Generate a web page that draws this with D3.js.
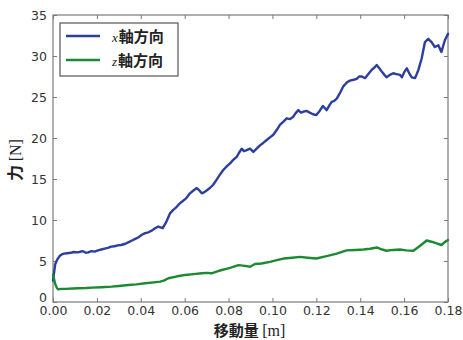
<!DOCTYPE html>
<html>
<head>
<meta charset="utf-8">
<script src="https://cdn.jsdelivr.net/npm/d3@7"></script>
<style>
  html, body { margin: 0; padding: 0; background: #fff; }
  svg { display: block; }
</style>
</head>
<body>
<svg id="chart" width="463" height="340"></svg>
<script>
// [displacement m, force N] samples along the x direction
const xDirection = [
  [0, 2.6], [0.0005, 3.6], [0.001, 4.6], [0.002, 5.2], [0.003, 5.6], [0.004, 5.8], [0.005, 5.9],
  [0.0065, 5.95], [0.008, 6.0], [0.0095, 6.1], [0.011, 6.05], [0.012, 6.1], [0.0135, 6.2],
  [0.015, 6.0], [0.016, 6.05], [0.0175, 6.2], [0.019, 6.15], [0.0205, 6.3], [0.022, 6.4],
  [0.0235, 6.5], [0.025, 6.6], [0.0265, 6.75], [0.028, 6.8], [0.0295, 6.9], [0.031, 6.95],
  [0.033, 7.1], [0.0345, 7.3], [0.036, 7.5], [0.0375, 7.7], [0.039, 7.9], [0.0405, 8.2],
  [0.042, 8.4], [0.0435, 8.5], [0.045, 8.7], [0.0465, 9.0], [0.048, 9.2], [0.050, 9.0],
  [0.0515, 9.7], [0.0533, 10.8], [0.0547, 11.2], [0.056, 11.5], [0.0573, 11.9], [0.0586, 12.2],
  [0.0605, 12.6], [0.0624, 13.25], [0.064, 13.6], [0.0655, 13.9], [0.0667, 13.6], [0.0678, 13.25],
  [0.069, 13.4], [0.070, 13.6], [0.0715, 13.9], [0.073, 14.3], [0.0745, 14.9], [0.076, 15.5],
  [0.0776, 16.1], [0.079, 16.5], [0.0807, 16.9], [0.082, 17.3], [0.0837, 17.7], [0.0848, 18.2],
  [0.086, 18.7], [0.087, 18.4], [0.088, 18.5], [0.0898, 18.7], [0.0913, 18.3], [0.0928, 18.7],
  [0.0943, 19.1], [0.0958, 19.4], [0.0974, 19.75], [0.099, 20.1], [0.1004, 20.4], [0.102, 21.0],
  [0.1034, 21.6], [0.105, 22.0], [0.1065, 22.4], [0.108, 22.3], [0.1095, 22.6], [0.1105, 23.0],
  [0.1118, 23.4], [0.113, 23.1], [0.114, 23.2], [0.1155, 23.3], [0.117, 23.1], [0.1185, 22.9],
  [0.120, 22.8], [0.1215, 23.3], [0.123, 23.9], [0.1247, 23.4], [0.126, 24.0], [0.127, 24.4],
  [0.128, 24.5], [0.1293, 24.8], [0.131, 25.6], [0.1323, 26.3], [0.134, 26.8], [0.1353, 27.0],
  [0.137, 27.1], [0.1384, 27.2], [0.1395, 27.5], [0.1407, 27.5], [0.1422, 27.3], [0.1437, 27.8],
  [0.1452, 28.3], [0.1465, 28.6], [0.1475, 28.9], [0.1487, 28.5], [0.1498, 28.1], [0.151, 27.7],
  [0.152, 27.4], [0.1535, 27.7], [0.155, 27.9], [0.1565, 27.8], [0.1581, 27.7], [0.159, 27.4],
  [0.160, 28.0], [0.1612, 28.5], [0.1625, 27.8], [0.1635, 27.4], [0.165, 27.3], [0.1665, 28.3],
  [0.168, 29.7], [0.1695, 31.7], [0.171, 32.1], [0.1725, 31.7], [0.174, 31.1], [0.1756, 31.3],
  [0.177, 30.5], [0.1786, 31.95], [0.18, 32.7]
];

// [displacement m, force N] samples along the z direction
const zDirection = [
  [0, 3.3], [0.0005, 2.8], [0.001, 2.2], [0.0018, 1.7], [0.0024, 1.55], [0.004, 1.6], [0.006, 1.6],
  [0.009, 1.65], [0.0115, 1.67], [0.015, 1.7], [0.018, 1.75], [0.022, 1.8], [0.0267, 1.87],
  [0.030, 1.95], [0.0343, 2.07], [0.038, 2.15], [0.042, 2.28], [0.046, 2.4], [0.0488, 2.48],
  [0.0505, 2.6], [0.0526, 2.9], [0.056, 3.1], [0.058, 3.2], [0.0602, 3.3], [0.064, 3.4],
  [0.0678, 3.5], [0.070, 3.55], [0.0723, 3.5], [0.0745, 3.7], [0.0769, 3.9], [0.079, 4.05],
  [0.081, 4.2], [0.0845, 4.5], [0.0875, 4.4], [0.0898, 4.3], [0.092, 4.63], [0.095, 4.7],
  [0.0989, 4.9], [0.102, 5.1], [0.105, 5.3], [0.109, 5.4], [0.1126, 5.5], [0.116, 5.4],
  [0.120, 5.3], [0.1247, 5.6], [0.1293, 5.9], [0.1338, 6.3], [0.138, 6.35], [0.1414, 6.4],
  [0.1445, 6.5], [0.1475, 6.65], [0.150, 6.4], [0.152, 6.25], [0.155, 6.35], [0.1581, 6.4],
  [0.161, 6.3], [0.1642, 6.25], [0.167, 6.8], [0.1703, 7.5], [0.1725, 7.35], [0.1748, 7.15],
  [0.177, 6.95], [0.1785, 7.3], [0.18, 7.55]
];

const xTicks = [0, 0.02, 0.04, 0.06, 0.08, 0.10, 0.12, 0.14, 0.16, 0.18];
const yTicks = [0, 5, 10, 15, 20, 25, 30, 35];
const seriesNames = ["x", "z"];

const series = [
  { name: seriesNames[0], data: xDirection, color: "#2c3f9e" },
  { name: seriesNames[1], data: zDirection, color: "#1b8a33" }
];

const svg = d3.select("#chart");
const plotL = 53, plotR = 448, plotT = 15, plotB = 302;
const axisColor = "#7a7a7a";
const tickTextColor = "#333";

const x = d3.scaleLinear().domain([0, 0.18]).range([plotL, plotR]);
const y = d3.scaleLinear().domain([0, 35]).range([plotB, plotT]);

// Plot frame
svg.append("rect")
  .attr("x", plotL).attr("y", plotT)
  .attr("width", plotR - plotL).attr("height", plotB - plotT)
  .attr("fill", "none").attr("stroke", axisColor).attr("stroke-width", 1.2);

// Inward ticks on all four sides, labels on bottom and left
const tickFont = "DejaVu Sans, sans-serif";
const bottomAxis = d3.axisBottom(x).tickValues(xTicks).tickSize(-4).tickPadding(4.5)
  .tickFormat(d3.format(".2f"));
const leftAxis = d3.axisLeft(y).tickValues(yTicks).tickSize(-4).tickPadding(6)
  .tickFormat(d3.format("d"));
const topAxis = d3.axisTop(x).tickValues(xTicks).tickSize(-4).tickFormat("");
const rightAxis = d3.axisRight(y).tickValues(yTicks).tickSize(-4).tickFormat("");

function styleAxis(g) {
  g.select(".domain").remove();
  g.selectAll(".tick line").attr("stroke", axisColor).attr("stroke-width", 1);
  g.selectAll(".tick text").attr("fill", tickTextColor)
    .style("font-family", tickFont).style("font-size", "12.5px");
}

svg.append("g").attr("transform", `translate(0,${plotB})`).call(bottomAxis).call(styleAxis);
const leftG = svg.append("g").attr("transform", `translate(${plotL},0)`).call(leftAxis).call(styleAxis);
// the zero label sits just above the corner so it clears "0.00"
leftG.selectAll(".tick text").filter(d => d === 0).attr("dy", "-0.05em");
svg.append("g").attr("transform", `translate(0,${plotT})`).call(topAxis).call(styleAxis);
svg.append("g").attr("transform", `translate(${plotR},0)`).call(rightAxis).call(styleAxis);

// Data lines
const line = d3.line()
  .x(d => x(d[0]))
  .y(d => y(d[1]));

series.forEach(s => {
  svg.append("path")
    .datum(s.data)
    .attr("d", line)
    .attr("fill", "none")
    .attr("stroke", s.color)
    .attr("stroke-width", 2.4)
    .attr("stroke-linejoin", "round")
    .attr("stroke-linecap", "round");
});

// Axis titles
const jpFont = "'Noto Sans CJK JP', sans-serif";
const serifFont = "'Liberation Serif', 'DejaVu Serif', serif";

const xl = svg.append("text")
  .attr("x", (plotL + plotR) / 2 - 1).attr("y", 335.5)
  .attr("text-anchor", "middle")
  .attr("fill", "#222")
  .style("font-size", "15px");
xl.append("tspan").style("font-family", jpFont).style("font-weight", "bold").text("移動量 ");
xl.append("tspan").style("font-family", serifFont).style("font-size", "16px").text("[m]");

const yl = svg.append("text")
  .attr("transform", "translate(21,160) rotate(-90)")
  .attr("text-anchor", "middle")
  .attr("fill", "#222")
  .style("font-size", "16px");
yl.append("tspan").style("font-family", jpFont).style("font-weight", "bold").text("力 ");
yl.append("tspan").style("font-family", serifFont).text("[N]");

// Legend
const legend = svg.append("g");
legend.append("rect")
  .attr("x", 60).attr("y", 23).attr("width", 118).attr("height", 53)
  .attr("fill", "#fff").attr("stroke", "#555").attr("stroke-width", 1.2);

series.forEach((s, i) => {
  const ly = 36 + i * 24;
  legend.append("line")
    .attr("x1", 66).attr("x2", 100).attr("y1", ly).attr("y2", ly)
    .attr("stroke", s.color).attr("stroke-width", 2.4);
  const t = legend.append("text")
    .attr("x", 112).attr("y", ly + 5.5)
    .attr("fill", "#222");
  t.append("tspan")
    .style("font-family", serifFont).style("font-style", "italic").style("font-size", "13px")
    .text(s.name);
  t.append("tspan")
    .attr("dx", 1)
    .style("font-family", jpFont).style("font-weight", "bold").style("font-size", "15px")
    .text("軸方向");
});
</script>
</body>
</html>
